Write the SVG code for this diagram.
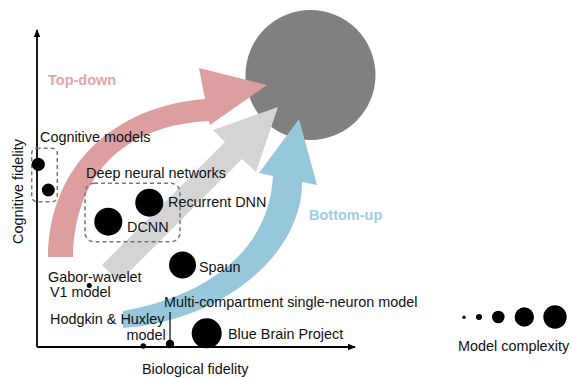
<svg xmlns="http://www.w3.org/2000/svg" width="572" height="378" viewBox="0 0 572 378">
<defs>
<marker id="ah" markerWidth="8" markerHeight="8" refX="7" refY="4" orient="auto" markerUnits="userSpaceOnUse">
<path d="M0,0.8 L8,4 L0,7.2 Z" fill="#000"/>
</marker>
<style>
text{font-family:"Liberation Sans",Arial,sans-serif;font-size:14.4px;fill:#111}
.b{font-weight:bold;font-size:14.5px}
.dot{fill:#000}
.box{fill:none;stroke:#777;stroke-width:1.5;stroke-dasharray:4 3}
.axis{stroke:#000;stroke-width:1.8;fill:none}
</style>
</defs>
<rect width="572" height="378" fill="#fff"/>
<g id="target"><circle cx="310.5" cy="75" r="65" fill="#808080"/></g>
<g id="connectors">
<path id="top-down-arrow" d="M48 257 C49 165 115 106 205 99 L199 68 L267 85 L210 125 L209 121 C128 125 75 170 73 257 Z" fill="#dc9e9f"/>
<path id="dnn-arrow" d="M102 265 L225 142 L213 130 L278 107 L256 172 L242 159 L119 282 Z" fill="#d4d4d4"/>
<path id="bottom-up-arrow" d="M123 311 C185 300 268 265 273 176 L259 173 L299 119 L317 185 L302 182 C303 255 220 322 123 328 Z" fill="#96c7db"/>
<line class="axis" x1="37" y1="347" x2="37" y2="30" marker-end="url(#ah)"/>
<line class="axis" x1="37" y1="347" x2="355" y2="347" marker-end="url(#ah)"/>
<line x1="170" y1="312" x2="170" y2="342" stroke="#000" stroke-width="1.2"/>
</g>
<g id="labels-arrows">
<text class="b" x="48" y="85" style="fill:#e2a6a6">Top-down</text>
<text class="b" x="309" y="220" style="fill:#9fcde1">Bottom-up</text>
</g>
<g id="cognitive-models">
<rect class="box" x="31.7" y="148.3" width="25.6" height="53.4" rx="5"/>
<circle class="dot" cx="38.3" cy="164.3" r="6.6"/>
<circle class="dot" cx="48.3" cy="190" r="6.5"/>
<text x="40" y="142">Cognitive models</text>
</g>
<g id="deep-neural-networks">
<rect class="box" x="85" y="183.3" width="95" height="58.4" rx="9"/>
<text x="86" y="178">Deep neural networks</text>
</g>
<g id="dcnn">
<circle class="dot" cx="108.3" cy="221.7" r="14"/>
<text x="127" y="232">DCNN</text>
</g>
<g id="recurrent-dnn">
<circle class="dot" cx="149.3" cy="202.7" r="14"/>
<text x="168" y="207">Recurrent DNN</text>
</g>
<g id="spaun">
<circle class="dot" cx="182.5" cy="265" r="13.5"/>
<text x="199" y="272">Spaun</text>
</g>
<g id="gabor">
<circle class="dot" cx="89.3" cy="285.5" r="2.5"/>
<text x="48" y="282">Gabor-wavelet</text>
<text x="50" y="297">V1 model</text>
</g>
<g id="hodgkin-huxley">
<circle class="dot" cx="143.3" cy="346" r="2.8"/>
<text x="50" y="324">Hodgkin &amp; Huxley</text>
<text x="126.5" y="340">model</text>
</g>
<g id="multi-compartment">
<circle class="dot" cx="170" cy="344" r="4.2"/>
<text x="164" y="307">Multi-compartment single-neuron model</text>
</g>
<g id="blue-brain">
<circle class="dot" cx="206.7" cy="333.3" r="15"/>
<text x="228" y="339">Blue Brain Project</text>
</g>
<g id="axis-labels">
<text x="142" y="374">Biological fidelity</text>
<text transform="translate(23,191.5) rotate(-90)" text-anchor="middle">Cognitive fidelity</text>
</g>
<g id="legend">
<circle class="dot" cx="464" cy="317.3" r="1.7"/>
<circle class="dot" cx="479" cy="317" r="3"/>
<circle class="dot" cx="498.3" cy="317" r="6.3"/>
<circle class="dot" cx="524.3" cy="317" r="9.7"/>
<circle class="dot" cx="555" cy="317" r="11.7"/>
<text x="458" y="351">Model complexity</text>
</g>
</svg>
